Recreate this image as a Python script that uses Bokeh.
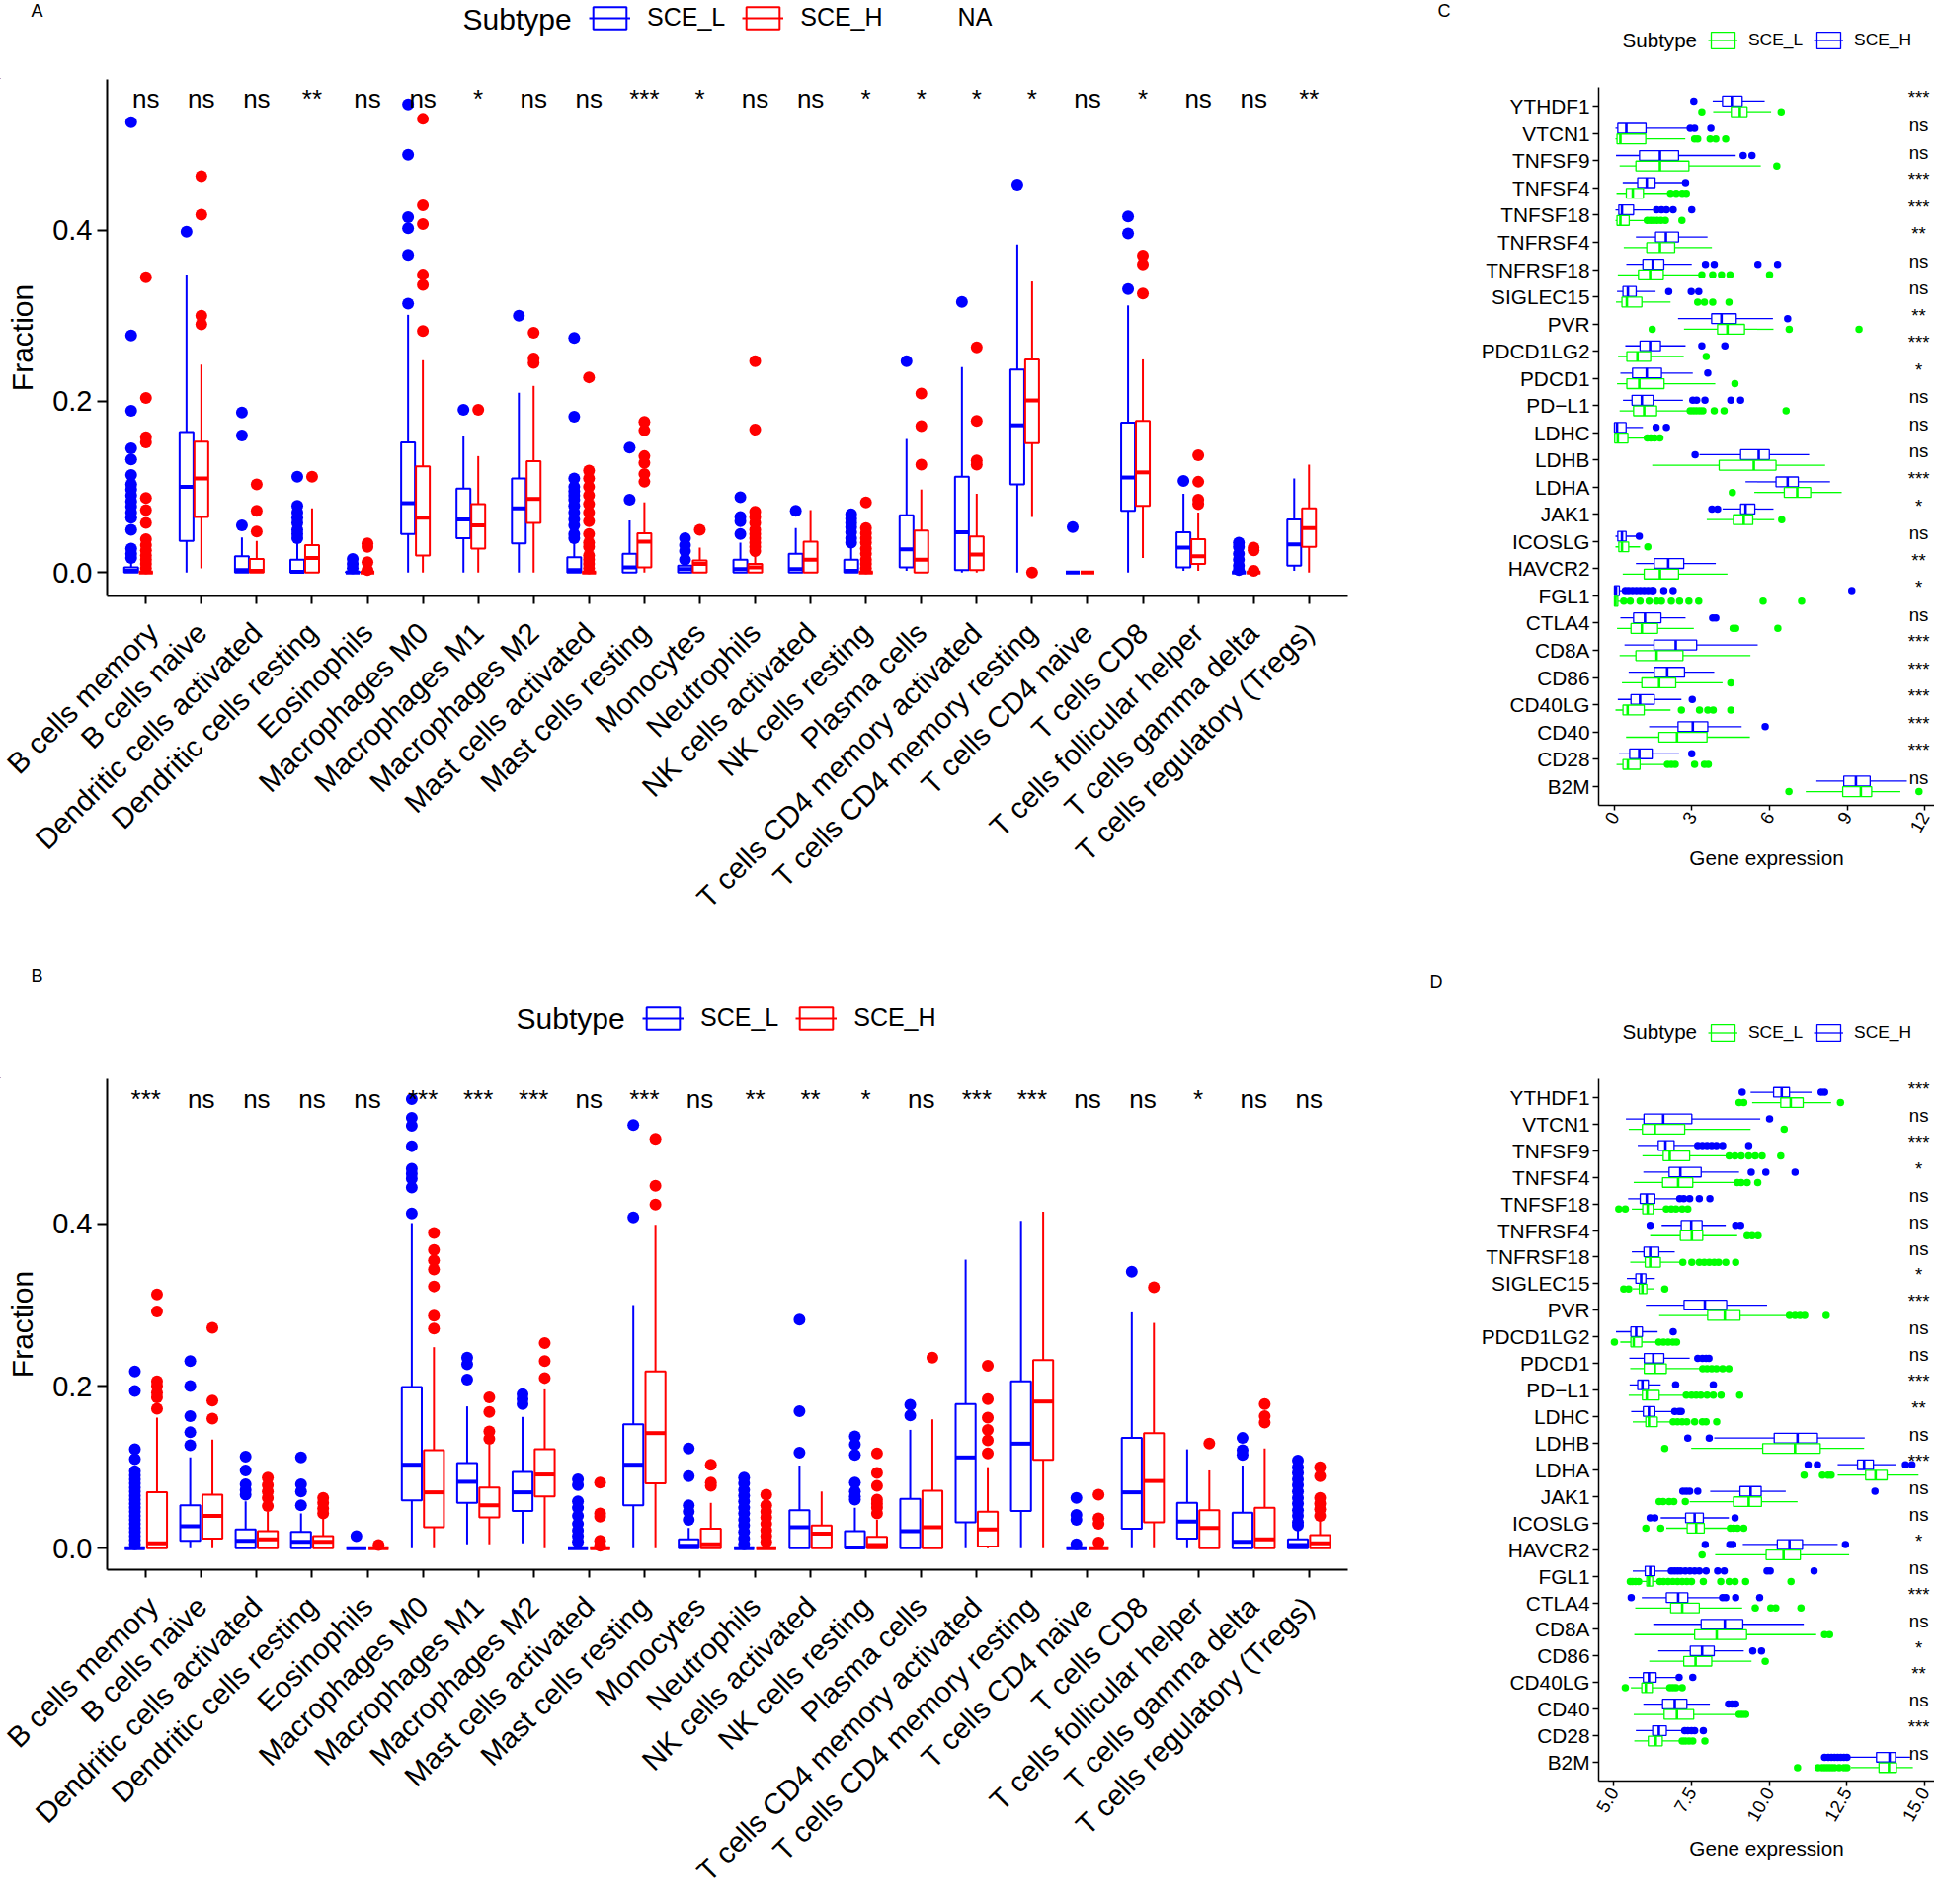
import math
from bokeh.plotting import figure
from bokeh.models import (FactorRange, Range1d, FixedTicker, PrintfTickFormatter,
                          ColumnDataSource, Legend, LegendItem, Label)
from bokeh.transform import dodge
from bokeh.layouts import column, row
from bokeh.embed import file_html
from bokeh.resources import INLINE
from bokeh.core.properties import value

FONT = "Liberation Sans"
BLUE = "#0000FF"
RED = "#FF0000"
GREEN = "#00FF00"

# ---------------- Panels A / B : immune cell fractions ----------------
cells = ["B cells memory", "B cells naive", "Dendritic cells activated", "Dendritic cells resting",
         "Eosinophils", "Macrophages M0", "Macrophages M1", "Macrophages M2", "Mast cells activated",
         "Mast cells resting", "Monocytes", "Neutrophils", "NK cells activated", "NK cells resting",
         "Plasma cells", "T cells CD4 memory activated", "T cells CD4 memory resting", "T cells CD4 naive",
         "T cells CD8", "T cells follicular helper", "T cells gamma delta", "T cells regulatory (Tregs)"]
A_sig = ["ns", "ns", "ns", "**", "ns", "ns", "*", "ns", "ns", "***", "*", "ns", "ns", "*", "*", "*", "*",
         "ns", "*", "ns", "ns", "**"]
B_sig = ["***", "ns", "ns", "ns", "ns", "***", "***", "***", "ns", "***", "ns", "**", "**", "*", "ns", "***",
         "***", "ns", "ns", "*", "ns", "ns"]
y_ticks_frac = [0.0, 0.2, 0.4]

# (lower whisker, Q1, median, Q3, upper whisker)
A_L_box = [(0, 0, 0.002, 0.006, 0.014), (0, 0.037, 0.1, 0.164, 0.348), (0, 0, 0.003, 0.019, 0.041),
           (0, 0, 0.001, 0.015, 0.037), (0, 0, 0, 0.001, 0.002), (0, 0.045, 0.081, 0.152, 0.301),
           (0, 0.04, 0.062, 0.098, 0.159), (0, 0.034, 0.075, 0.11, 0.21), (0, 0, 0.003, 0.018, 0.036),
           (0, 0, 0.006, 0.022, 0.061), (0, 0, 0.004, 0.008, 0.012), (0, 0, 0.004, 0.015, 0.035),
           (0, 0, 0.004, 0.022, 0.052), (0, 0, 0.002, 0.015, 0.03), (0.002, 0.006, 0.027, 0.067, 0.156),
           (0, 0.003, 0.047, 0.112, 0.24), (0, 0.103, 0.172, 0.237, 0.383), (0, 0, 0, 0, 0),
           (0, 0.072, 0.111, 0.175, 0.312), (0.002, 0.006, 0.029, 0.047, 0.092), (0, 0, 0, 0, 0),
           (0.002, 0.008, 0.033, 0.062, 0.11)]
A_L_out = [[0.526, 0.277, 0.189, 0.145, 0.132, 0.114, 0.103, 0.097, 0.09, 0.083, 0.077, 0.07, 0.064, 0.05, 0.028, 0.022, 0.017],
           [0.398], [0.187, 0.16, 0.055], [0.112, 0.078, 0.07, 0.064, 0.058, 0.05, 0.045, 0.04],
           [0.016, 0.01, 0.005], [0.314, 0.371, 0.402, 0.415, 0.488, 0.547], [0.19], [0.3],
           [0.274, 0.182, 0.11, 0.1, 0.095, 0.09, 0.085, 0.078, 0.07, 0.062, 0.055, 0.045, 0.04],
           [0.146, 0.085], [0.04, 0.032, 0.025, 0.015], [0.088, 0.065, 0.06, 0.045], [0.072],
           [0.068, 0.063, 0.058, 0.053, 0.047, 0.04, 0.035], [0.247], [0.316], [0.453], [0.053],
           [0.331, 0.396, 0.416], [0.107], [0.035, 0.03, 0.022, 0.015, 0.008, 0.003], []]
A_H_box = [(0, 0, 0, 0, 0), (0.005, 0.065, 0.11, 0.153, 0.243), (0, 0, 0.002, 0.016, 0.037),
           (0, 0, 0.017, 0.032, 0.075), (0, 0, 0, 0, 0), (0, 0.02, 0.064, 0.124, 0.248),
           (0, 0.028, 0.055, 0.08, 0.136), (0, 0.058, 0.086, 0.13, 0.218), (0, 0, 0, 0, 0),
           (0, 0.006, 0.036, 0.046, 0.082), (0, 0, 0.01, 0.014, 0.029), (0, 0, 0.006, 0.01, 0.02),
           (0, 0, 0.015, 0.036, 0.073), (0, 0, 0, 0, 0), (0, 0, 0.015, 0.049, 0.097),
           (0, 0.003, 0.021, 0.042, 0.092), (0.065, 0.151, 0.201, 0.249, 0.34), (0, 0, 0, 0, 0),
           (0.017, 0.078, 0.117, 0.177, 0.249), (0.002, 0.01, 0.019, 0.039, 0.07), (0, 0, 0, 0, 0),
           (0, 0.03, 0.052, 0.075, 0.126)]
A_H_out = [[0.345, 0.204, 0.158, 0.152, 0.087, 0.073, 0.058, 0.039, 0.032, 0.026, 0.02, 0.015, 0.01, 0.005],
           [0.463, 0.418, 0.3, 0.29], [0.103, 0.072, 0.048], [0.112], [0.034, 0.03, 0.012, 0.003],
           [0.282, 0.336, 0.348, 0.407, 0.429, 0.53], [0.19], [0.28, 0.25, 0.245],
           [0.228, 0.119, 0.11, 0.1, 0.09, 0.08, 0.07, 0.06, 0.045, 0.035, 0.03, 0.02, 0.015, 0.01, 0.005],
           [0.176, 0.166, 0.136, 0.128, 0.115, 0.106], [0.05],
           [0.247, 0.167, 0.071, 0.065, 0.058, 0.05, 0.045, 0.04, 0.035, 0.03, 0.025], [],
           [0.082, 0.052, 0.046, 0.04, 0.035, 0.028, 0.022, 0.015, 0.01, 0.005], [0.209, 0.171, 0.126],
           [0.263, 0.177, 0.131, 0.126], [0.0], [], [0.326, 0.36, 0.37], [0.137, 0.106, 0.085, 0.08],
           [0.029, 0.026, 0.002], []]

B_L_box = [(0, 0, 0, 0, 0), (0, 0.009, 0.027, 0.053, 0.112), (0, 0, 0.009, 0.023, 0.058),
           (0, 0, 0.008, 0.02, 0.043), (0, 0, 0, 0, 0), (0, 0.059, 0.103, 0.199, 0.401),
           (0.005, 0.056, 0.082, 0.105, 0.175), (0.006, 0.046, 0.069, 0.094, 0.162), (0, 0, 0, 0, 0),
           (0, 0.053, 0.103, 0.153, 0.3), (0, 0, 0.003, 0.011, 0.025), (0, 0, 0, 0, 0),
           (0, 0, 0.026, 0.047, 0.102), (0, 0, 0.001, 0.021, 0.05), (0, 0, 0.021, 0.061, 0.146),
           (0, 0.032, 0.112, 0.178, 0.356), (0, 0.046, 0.129, 0.206, 0.404), (0, 0, 0, 0, 0),
           (0, 0.024, 0.069, 0.136, 0.291), (0, 0.012, 0.033, 0.056, 0.122), (0, 0, 0.008, 0.044, 0.102),
           (0, 0, 0.004, 0.011, 0.025)]
B_L_out = [[0.218, 0.194, 0.122, 0.11, 0.095, 0.09, 0.085, 0.08, 0.075, 0.07, 0.065, 0.06, 0.055, 0.05, 0.045, 0.04, 0.035, 0.03, 0.025, 0.02, 0.015, 0.01, 0.005],
           [0.231, 0.2, 0.163, 0.143, 0.127], [0.113, 0.096, 0.079, 0.072, 0.066], [0.112, 0.079, 0.07, 0.053],
           [0.015], [0.413, 0.445, 0.456, 0.462, 0.468, 0.496, 0.521, 0.531, 0.554], [0.208, 0.227, 0.235],
           [0.178, 0.184, 0.19], [0.085, 0.078, 0.058, 0.05, 0.04, 0.03, 0.022, 0.015, 0.008], [0.408, 0.522],
           [0.123, 0.089, 0.053, 0.045, 0.035],
           [0.087, 0.08, 0.072, 0.065, 0.058, 0.05, 0.043, 0.035, 0.028, 0.02, 0.012, 0.005],
           [0.282, 0.169, 0.118], [0.138, 0.128, 0.115, 0.081, 0.07, 0.064, 0.06], [0.177, 0.164], [], [],
           [0.062, 0.041, 0.035, 0.005], [0.341], [], [0.136, 0.121, 0.115],
           [0.108, 0.1, 0.093, 0.085, 0.078, 0.07, 0.062, 0.055, 0.047, 0.04, 0.032, 0.028]]
B_H_box = [(0, 0, 0.006, 0.069, 0.161), (0, 0.012, 0.04, 0.066, 0.134), (0, 0, 0.011, 0.021, 0.045),
           (0, 0, 0.008, 0.015, 0.037), (0, 0, 0, 0, 0), (0, 0.026, 0.069, 0.121, 0.248),
           (0.005, 0.038, 0.053, 0.075, 0.128), (0, 0.064, 0.091, 0.122, 0.196), (0, 0, 0, 0, 0),
           (0, 0.08, 0.142, 0.218, 0.399), (0, 0, 0.005, 0.024, 0.056), (0, 0, 0, 0, 0),
           (0, 0, 0.018, 0.028, 0.07), (0, 0, 0.004, 0.014, 0.035), (0, 0, 0.026, 0.071, 0.159),
           (0, 0.002, 0.023, 0.045, 0.1), (0, 0.109, 0.181, 0.232, 0.415), (0, 0, 0, 0, 0),
           (0, 0.032, 0.083, 0.142, 0.278), (0, 0, 0.025, 0.047, 0.096), (0, 0, 0.011, 0.05, 0.123),
           (0, 0, 0.006, 0.016, 0.035)]
B_H_out = [[0.313, 0.292, 0.206, 0.2, 0.192, 0.186, 0.172], [0.272, 0.182, 0.16],
           [0.087, 0.078, 0.07, 0.062, 0.052], [0.062, 0.056, 0.049, 0.043], [0.004],
           [0.271, 0.287, 0.323, 0.344, 0.355, 0.368, 0.389], [0.186, 0.168, 0.144, 0.135],
           [0.21, 0.231, 0.253], [0.081, 0.043, 0.039, 0.009, 0.003], [0.424, 0.447, 0.505],
           [0.103, 0.081, 0.077], [0.066, 0.053, 0.045, 0.038, 0.03, 0.022, 0.015, 0.008], [],
           [0.117, 0.093, 0.077, 0.06, 0.055, 0.05, 0.043], [0.235],
           [0.225, 0.184, 0.161, 0.146, 0.133, 0.117], [], [0.066, 0.037, 0.03, 0.007], [0.322], [0.129],
           [0.178, 0.163, 0.155], [0.1, 0.089, 0.062, 0.055, 0.048, 0.04]]

# ---------------- Panels C / D : gene expression ----------------
genes = ["YTHDF1", "VTCN1", "TNFSF9", "TNFSF4", "TNFSF18", "TNFRSF4", "TNFRSF18", "SIGLEC15", "PVR",
         "PDCD1LG2", "PDCD1", "PD\u2212L1", "LDHC", "LDHB", "LDHA", "JAK1", "ICOSLG", "HAVCR2", "FGL1",
         "CTLA4", "CD8A", "CD86", "CD40LG", "CD40", "CD28", "B2M"]
C_sig = ["***", "ns", "ns", "***", "***", "**", "ns", "ns", "**", "***", "*", "ns", "ns", "ns", "***", "*",
         "ns", "**", "*", "ns", "***", "***", "***", "***", "***", "ns"]
D_sig = ["***", "ns", "***", "*", "ns", "ns", "ns", "*", "***", "ns", "ns", "***", "**", "ns", "***", "ns",
         "ns", "*", "ns", "***", "ns", "*", "**", "ns", "***", "ns"]
C_ticks = [0, 3, 6, 9, 12]
D_ticks = [5.0, 7.5, 10.0, 12.5, 15.0]

C_H_box = [(3.8, 4.18, 4.54, 4.94, 5.81), (0.04, 0.13, 0.46, 1.22, 2.84), (0.06, 0.97, 1.76, 2.48, 4.69),
           (0.32, 0.9, 1.25, 1.57, 2.65), (0.04, 0.17, 0.29, 0.74, 1.5), (0.83, 1.59, 1.99, 2.48, 3.6),
           (0.46, 1.1, 1.48, 1.91, 2.99), (0.1, 0.33, 0.52, 0.84, 1.59), (2.46, 3.76, 4.14, 4.71, 6.13),
           (0.42, 0.99, 1.38, 1.78, 2.75), (0.23, 0.7, 1.25, 1.82, 3.03), (0.33, 0.68, 1.06, 1.5, 2.65),
           (0.0, 0.0, 0.1, 0.45, 1.1), (3.29, 4.88, 5.58, 5.99, 7.53), (5.07, 6.25, 6.7, 7.11, 8.34),
           (4.18, 4.88, 5.07, 5.43, 6.15), (0.04, 0.13, 0.29, 0.45, 0.87), (0.83, 1.54, 2.08, 2.68, 3.92),
           (0.0, 0.0, 0.06, 0.19, 0.38), (0.23, 0.74, 1.18, 1.8, 2.75), (0.39, 1.53, 2.37, 3.18, 5.54),
           (0.55, 1.54, 2.04, 2.71, 3.86), (0.13, 0.64, 0.99, 1.54, 2.59), (1.34, 2.46, 3.03, 3.61, 4.92),
           (0.17, 0.59, 0.96, 1.46, 2.5), (7.81, 8.87, 9.34, 9.89, 11.31)]
C_H_out = [[3.07], [2.93, 3.1, 3.73], [4.98, 5.32], [2.75], [1.63, 1.82, 2.01, 2.27, 2.99], [],
           [3.52, 3.86, 5.55, 6.31], [2.1, 2.97, 3.26], [6.7], [3.38, 4.27], [3.61],
           [3.03, 3.18, 3.5, 4.5, 4.88], [1.61, 2.01], [3.12], [], [3.77, 3.99], [0.96], [],
           [0.42, 0.55, 0.7, 0.85, 1.0, 1.15, 1.3, 1.45, 1.5, 1.91, 2.27, 9.18], [3.8, 3.92], [], [],
           [3.01], [5.83], [2.99], []]
C_L_box = [(3.82, 4.52, 4.85, 5.13, 6.06), (0.04, 0.1, 0.23, 1.21, 2.74), (0.2, 0.83, 1.76, 2.88, 5.66),
           (0.08, 0.46, 0.71, 1.12, 2.08), (0.04, 0.1, 0.23, 0.57, 1.18), (0.36, 1.25, 1.76, 2.33, 3.77),
           (0.13, 0.93, 1.38, 1.89, 3.29), (0.06, 0.29, 0.48, 1.06, 2.17), (2.69, 3.99, 4.37, 5.03, 6.15),
           (0.14, 0.48, 0.89, 1.4, 2.68), (0.1, 0.48, 0.96, 1.92, 3.9), (0.2, 0.74, 1.15, 1.63, 2.84),
           (0.01, 0.01, 0.13, 0.52, 1.21), (1.46, 4.05, 5.39, 6.25, 8.15), (5.41, 6.57, 7.07, 7.59, 8.79),
           (3.57, 4.6, 5.0, 5.35, 6.18), (0.04, 0.17, 0.29, 0.55, 0.99), (0.32, 1.15, 1.76, 2.48, 4.37),
           (0.0, 0.0, 0.04, 0.13, 0.3), (0.1, 0.64, 1.06, 1.67, 3.07), (0.2, 0.83, 1.63, 2.65, 5.26),
           (0.29, 1.06, 1.73, 2.37, 4.18), (0.04, 0.33, 0.51, 1.15, 2.17), (0.45, 1.72, 2.42, 3.58, 5.24),
           (0.08, 0.33, 0.52, 0.99, 2.01), (7.4, 8.83, 9.53, 9.95, 11.06)]
C_L_out = [[3.38, 6.45], [3.1, 3.22, 3.7, 3.92, 4.3], [6.28], [2.17, 2.39, 2.62, 2.78],
           [1.27, 1.4, 1.52, 1.65, 1.8, 1.97, 2.61], [], [3.38, 3.8, 4.14, 4.47, 6.0], [3.22, 3.48, 3.8, 4.43],
           [1.46, 6.76, 9.46], [3.55], [4.66], [2.93, 3.05, 3.17, 3.3, 3.42, 3.86, 4.24, 6.64],
           [1.27, 1.4, 1.55, 1.76], [], [4.56], [6.47], [1.29], [],
           [0.36, 0.61, 0.99, 1.34, 1.63, 1.82, 2.2, 2.52, 2.88, 3.26, 5.75, 7.24], [4.59, 4.69, 6.32], [],
           [4.5], [2.59, 3.29, 3.61, 3.82, 4.5], [], [2.05, 2.2, 2.35, 3.1, 3.48, 3.63], [6.75, 11.78]]

D_H_box = [(9.4, 10.14, 10.4, 10.65, 11.36), (5.39, 5.97, 6.59, 7.51, 9.71), (5.77, 6.43, 6.66, 6.94, 7.65),
           (5.95, 6.78, 7.14, 7.81, 9.03), (5.46, 5.85, 6.06, 6.32, 7.07), (6.54, 7.17, 7.49, 7.84, 8.6),
           (5.58, 5.97, 6.17, 6.45, 6.96), (5.42, 5.71, 5.88, 6.03, 6.32), (6.03, 7.26, 7.93, 8.63, 9.93),
           (5.07, 5.55, 5.72, 5.92, 6.41), (5.5, 5.98, 6.27, 6.61, 7.44), (5.51, 5.77, 5.92, 6.11, 6.51),
           (5.56, 5.95, 6.13, 6.32, 6.91), (8.23, 10.16, 10.91, 11.55, 13.07), (12.2, 12.84, 13.05, 13.35, 14.09),
           (8.1, 9.06, 9.4, 9.74, 10.53), (6.51, 7.31, 7.6, 7.88, 8.7), (9.15, 10.26, 10.65, 11.07, 12.2),
           (5.61, 6.01, 6.17, 6.32, 6.78), (5.9, 6.69, 7.07, 7.38, 8.44), (6.27, 7.81, 8.57, 9.15, 11.11),
           (6.43, 7.46, 7.84, 8.23, 9.18), (5.48, 5.95, 6.13, 6.36, 7.02), (5.95, 6.57, 6.96, 7.35, 8.09),
           (5.71, 6.25, 6.45, 6.69, 7.25), (12.6, 13.45, 13.87, 14.06, 14.53)]
D_H_out = [[9.13, 11.67, 11.78], [10.01], [7.7, 7.85, 8.0, 8.15, 8.3, 8.5, 9.34], [9.42, 9.89, 10.83],
           [7.12, 7.25, 7.44, 7.75, 8.09], [6.17, 8.92, 9.08], [], [], [], [6.91], [7.7, 7.85, 7.97, 8.06],
           [6.99, 8.2], [6.96, 7.1, 7.17], [7.38, 8.07], [11.25, 11.55, 14.38, 14.59],
           [7.22, 7.33, 7.44, 7.7, 13.4], [6.17, 6.32, 8.9], [7.94, 8.73, 8.83, 12.45],
           [6.85, 6.95, 7.05, 7.15, 7.3, 7.45, 7.6, 7.75, 7.97, 8.34, 8.55, 9.93, 10.03, 11.44],
           [5.56, 8.5, 8.6, 8.92, 9.69], [], [9.47, 9.75], [7.1, 7.54], [8.69, 8.8, 8.92],
           [7.28, 7.38, 7.5, 7.6, 7.88], [11.78, 11.9, 12.0, 12.1, 12.2, 12.3, 12.4, 12.5]]
D_L_box = [(9.45, 10.37, 10.69, 11.09, 11.99), (5.48, 5.92, 6.32, 7.28, 9.4), (5.92, 6.59, 6.8, 7.44, 8.65),
           (5.64, 6.57, 7.07, 7.54, 8.92), (5.58, 5.93, 6.09, 6.27, 6.64), (6.17, 7.14, 7.51, 7.86, 8.97),
           (5.53, 6.01, 6.17, 6.5, 7.12), (5.6, 5.82, 5.92, 6.06, 6.3), (6.46, 8.02, 8.57, 9.06, 10.61),
           (5.21, 5.55, 5.64, 5.9, 6.38), (5.53, 5.98, 6.32, 6.69, 7.81), (5.48, 5.92, 6.06, 6.46, 7.28),
           (5.61, 6.03, 6.13, 6.4, 6.85), (7.49, 9.79, 10.83, 11.64, 13.05), (12.2, 13.1, 13.42, 13.79, 14.8),
           (7.44, 8.85, 9.34, 9.75, 10.91), (6.69, 7.36, 7.65, 7.91, 8.71), (8.26, 9.9, 10.46, 11.0, 12.57),
           (5.9, 6.06, 6.13, 6.25, 6.38), (5.69, 6.83, 7.2, 7.75, 9.13), (5.66, 7.6, 8.31, 9.27, 11.51),
           (6.14, 7.25, 7.63, 8.15, 9.43), (5.55, 5.9, 6.03, 6.24, 6.69), (5.64, 6.62, 7.03, 7.57, 8.97),
           (5.66, 6.11, 6.35, 6.56, 7.17), (12.63, 13.53, 13.85, 14.09, 14.62)]
D_L_out = [[9.03, 9.18, 12.29], [10.48], [8.71, 8.9, 9.1, 9.34, 9.55, 9.77, 10.37], [8.97, 9.1, 9.29, 9.63],
           [5.16, 5.37, 6.69, 6.85, 7.0, 7.2, 7.38], [9.29, 9.45, 9.64],
           [7.22, 7.51, 7.75, 7.91, 8.07, 8.23, 8.37, 8.6, 8.92], [5.32, 5.48, 6.64],
           [10.65, 10.83, 10.99, 11.14, 11.83], [5.02, 6.45, 6.6, 6.75, 6.9, 7.02], [7.86, 8.0, 8.15, 8.3, 8.5, 8.7],
           [7.33, 7.5, 7.65, 7.8, 8.0, 8.2, 8.45, 9.05], [6.91, 7.05, 7.2, 7.35, 7.6, 7.85, 7.97, 8.31], [6.64],
           [11.12, 11.71, 11.89, 11.99], [6.46, 6.59, 6.78, 6.93, 7.3], [6.03, 6.51, 8.75, 8.85, 8.98, 9.18],
           [7.84],
           [5.53, 5.6, 5.7, 5.8, 6.48, 6.6, 6.75, 6.9, 7.05, 7.2, 7.35, 7.5, 7.88, 8.44, 8.71, 8.9, 9.24, 10.7],
           [9.55, 10.05, 10.21, 11.02], [11.78, 11.94], [9.87], [5.37, 6.8, 6.9, 7.0, 7.2], [9.03, 9.13, 9.24],
           [7.2, 7.3, 7.42, 7.54, 7.93], [10.91, 11.57, 11.7, 11.8, 11.9, 12.0, 12.1, 12.25, 12.4, 12.5]]


# ---------------- helpers ----------------
def base_fig(W, H, L, R, T, B, x_range, y_range):
    p = figure(width=W, height=H, x_range=x_range, y_range=y_range, output_backend="svg",
               toolbar_location=None, min_border_left=L, min_border_right=R, min_border_top=T,
               min_border_bottom=B)
    p.outline_line_color = None
    p.background_fill_color = "white"
    p.border_fill_color = "white"
    p.xgrid.grid_line_color = None
    p.ygrid.grid_line_color = None
    for ax in (p.xaxis[0], p.yaxis[0]):
        ax.axis_line_color = "black"
        ax.major_tick_line_color = "black"
        ax.minor_tick_line_color = None
        ax.major_tick_in = 0
        ax.minor_tick_out = 0
        ax.minor_tick_in = 0
        ax.major_label_text_font = FONT
        ax.major_label_text_color = "black"
        ax.axis_label_text_font = FONT
        ax.axis_label_text_font_style = "normal"
        ax.axis_label_text_color = "black"
    return p


def header_fig(W, H):
    p = figure(width=W, height=H, x_range=Range1d(0, 1), y_range=Range1d(0, 1), output_backend="svg",
               toolbar_location=None, x_axis_location=None, y_axis_location=None,
               min_border_left=0, min_border_right=0, min_border_top=0, min_border_bottom=0)
    p.outline_line_color = None
    p.background_fill_color = "white"
    p.border_fill_color = "white"
    p.grid.visible = False
    return p


def unpack(box):
    return [list(t) for t in zip(*box)]


def draw_vboxes(p, cats, box, outs, off, bw, color, lw, mlw, ps):
    lo, q1, med, q3, hi = unpack(box)
    src = ColumnDataSource(dict(cat=cats, lo=lo, q1=q1, med=med, q3=q3, hi=hi))
    oc = [c for c, o in zip(cats, outs) for _ in o]
    ov = [v for o in outs for v in o]
    osrc = ColumnDataSource(dict(cat=oc, v=ov))
    p.scatter(x=dodge("cat", off, range=p.x_range), y="v", source=osrc, size=ps,
              fill_color=color, line_color=None)
    p.segment(x0=dodge("cat", off, range=p.x_range), y0="lo", x1=dodge("cat", off, range=p.x_range),
              y1="q1", source=src, line_color=color, line_width=lw)
    p.segment(x0=dodge("cat", off, range=p.x_range), y0="q3", x1=dodge("cat", off, range=p.x_range),
              y1="hi", source=src, line_color=color, line_width=lw)
    p.vbar(x=dodge("cat", off, range=p.x_range), width=bw, bottom="q1", top="q3", source=src,
           fill_color="white", line_color=color, line_width=lw)
    p.segment(x0=dodge("cat", off - bw / 2, range=p.x_range), y0="med",
              x1=dodge("cat", off + bw / 2, range=p.x_range), y1="med", source=src,
              line_color=color, line_width=mlw)


def draw_hboxes(p, cats, box, outs, off, bh, color, lw, mlw, ps):
    lo, q1, med, q3, hi = unpack(box)
    src = ColumnDataSource(dict(cat=cats, lo=lo, q1=q1, med=med, q3=q3, hi=hi))
    oc = [c for c, o in zip(cats, outs) for _ in o]
    ov = [v for o in outs for v in o]
    osrc = ColumnDataSource(dict(cat=oc, v=ov))
    p.scatter(y=dodge("cat", off, range=p.y_range), x="v", source=osrc, size=ps,
              fill_color=color, line_color=None)
    p.segment(y0=dodge("cat", off, range=p.y_range), x0="lo", y1=dodge("cat", off, range=p.y_range),
              x1="q1", source=src, line_color=color, line_width=lw)
    p.segment(y0=dodge("cat", off, range=p.y_range), x0="q3", y1=dodge("cat", off, range=p.y_range),
              x1="hi", source=src, line_color=color, line_width=lw)
    p.hbar(y=dodge("cat", off, range=p.y_range), height=bh, left="q1", right="q3", source=src,
           fill_color="white", line_color=color, line_width=lw)
    p.segment(y0=dodge("cat", off - bh / 2, range=p.y_range), x0="med",
              y1=dodge("cat", off + bh / 2, range=p.y_range), x1="med", source=src,
              line_color=color, line_width=mlw)


def key_items(p, labels, colors, lw, with_na):
    # legend-only renderers: one point each, parked outside the header's visible range
    items = []
    for lab, col in zip(labels, colors):
        b = p.vbar(x=[-5], top=[-5], bottom=[-6], width=0.1, fill_color="white", line_color=col, line_width=lw)
        m = p.segment(x0=[-5], y0=[-5], x1=[-6], y1=[-5], line_color=col, line_width=lw)
        items.append(LegendItem(label=lab, renderers=[b, m]))
    if with_na:
        na = p.scatter(x=[-5], y=[-5], fill_alpha=0, line_alpha=0)
        items.append(LegendItem(label="NA", renderers=[na]))
    return items


def add_legend(p, items, loc, lfs, gw, gh, lstand, spacing):
    lg = Legend(items=items, location=loc, orientation="horizontal",
                label_text_font=FONT, label_text_font_size=lfs, label_text_color="black",
                glyph_width=gw, glyph_height=gh, label_standoff=lstand, spacing=spacing,
                padding=0, margin=0, border_line_color=None, background_fill_alpha=0,
                label_height=gh, label_width=10)
    p.add_layout(lg, "center")


def text_label(p, text, x, y, size, baseline="top"):
    p.add_layout(Label(x=x, y=y, x_units="screen", y_units="screen", text=text, text_font=FONT,
                       text_font_size=size, text_baseline=baseline, text_align="left",
                       text_color="black"))


def cell_panel(W, H, T, B, yr, L_box, L_out, H_box, H_out, sig, sig_y, offs, bw):
    xr = FactorRange(factors=cells, range_padding=0.2, range_padding_units="absolute")
    p = base_fig(W, H, 108, 76, T, B, xr, Range1d(*yr))
    draw_vboxes(p, cells, L_box, L_out, offs[0], bw, BLUE, 2, 4, 12)
    draw_vboxes(p, cells, H_box, H_out, offs[1], bw, RED, 2, 4, 12)
    p.text(x="cat", y="y", text="s",
           source=ColumnDataSource(dict(cat=cells, y=[sig_y] * len(cells), s=sig)),
           text_align="center", text_baseline="alphabetic", text_font=value(FONT),
           text_font_size=value("26px"), text_color="black")
    xa, ya = p.xaxis[0], p.yaxis[0]
    xa.major_label_orientation = math.pi / 4
    xa.major_label_text_font_size = "29.5px"
    xa.major_tick_out = 8
    xa.major_label_standoff = 24
    xa.axis_line_width = 2
    xa.major_tick_line_width = 2
    ya.ticker = FixedTicker(ticks=y_ticks_frac, minor_ticks=[])
    ya.formatter = PrintfTickFormatter(format="%.1f")
    ya.major_label_text_font_size = "29px"
    ya.major_tick_out = 10
    ya.major_label_standoff = 5
    ya.axis_line_width = 2
    ya.major_tick_line_width = 2
    ya.axis_label = "Fraction"
    ya.axis_label_text_font_size = "30px"
    ya.axis_label_standoff = 11
    return p


def gene_panel(W, H, T, B, xr, ticks, fmt, H_box, H_out, L_box, L_out, sig, sig_x, sig_dy, title_standoff):
    yr = FactorRange(factors=genes[::-1], range_padding=0.2, range_padding_units="absolute")
    p = base_fig(W, H, 178, 0, T, B, Range1d(*xr), yr)
    draw_hboxes(p, genes, H_box, H_out, 0.195, 0.36, BLUE, 1.3, 2.6, 7.5)
    draw_hboxes(p, genes, L_box, L_out, -0.195, 0.36, GREEN, 1.3, 2.6, 7.5)
    p.text(x="x", y=dodge("g", sig_dy, range=p.y_range), text="s",
           source=ColumnDataSource(dict(g=genes, x=[sig_x] * len(genes), s=sig)),
           text_align="center", text_baseline="alphabetic", text_font=value(FONT),
           text_font_size=value("18.6px"), text_color="black")
    xa, ya = p.xaxis[0], p.yaxis[0]
    xa.ticker = FixedTicker(ticks=ticks, minor_ticks=[])
    if fmt:
        xa.formatter = PrintfTickFormatter(format=fmt)
    xa.major_label_orientation = math.pi / 3
    xa.major_label_text_font_size = "18.5px"
    xa.major_tick_out = 5
    xa.major_label_standoff = 3
    xa.axis_line_width = 1.5
    xa.major_tick_line_width = 1.5
    xa.axis_label = "Gene expression"
    xa.axis_label_text_font_size = "20.7px"
    xa.axis_label_standoff = title_standoff
    ya.major_label_text_font_size = "20.8px"
    ya.major_tick_out = 6
    ya.major_label_standoff = 3
    ya.axis_line_width = 1.5
    ya.major_tick_line_width = 1.5
    return p


# ---------------- figures (page is drawn from its top-left corner) ----------------
WL, WR = 1440, 518
pA = cell_panel(WL, 895, 0, 372, (-0.0274, 0.576), A_L_box, A_L_out, A_H_box, A_H_out, A_sig,
                0.553, (-0.267, 0.0), 0.25)
pB = cell_panel(WL, 834, 0, 309, (-0.0265, 0.579), B_L_box, B_L_out, B_H_box, B_H_out, B_sig,
                0.5545, (-0.2, 0.2), 0.36)
pC = gene_panel(WR, 895, 8, 160, (-0.61, 12.38), C_ticks, None, C_H_box, C_H_out, C_L_box, C_L_out,
                C_sig, 11.77, 0.32, 6)
pD = gene_panel(WR, 834, 0, 123, (4.514, 15.315), D_ticks, "%.1f", D_H_box, D_H_out, D_L_box, D_L_out,
                D_sig, 14.81, 0.33, 8)

# header strips carrying the legends and panel tags
h1 = header_fig(WL + WR, 80)
text_label(h1, "Subtype", 468, 61, "30px", "alphabetic")
add_legend(h1, key_items(h1, ["SCE_L", "SCE_H"], [BLUE, RED], 2, True), (596, 48), "25px", 42, 28, 17, 17)
text_label(h1, "Subtype", 1642, 39.7, "20.6px", "alphabetic")
add_legend(h1, key_items(h1, ["SCE_L", "SCE_H"], [GREEN, BLUE], 1.3, False), (1729, 29),
           "17.4px", 30, 21, 11, 11)
text_label(h1, "A", 31, 80, "18px")
text_label(h1, "C", 1455, 80, "18px")

h2 = header_fig(WL + WR, 117)
text_label(h2, "Subtype", 522, 61, "30px", "alphabetic")
add_legend(h2, key_items(h2, ["SCE_L", "SCE_H"], [BLUE, RED], 2, False), (650, 47), "25px", 42, 28, 17, 17)
text_label(h2, "Subtype", 1642, 48.3, "20.6px", "alphabetic")
add_legend(h2, key_items(h2, ["SCE_L", "SCE_H"], [GREEN, BLUE], 1.3, False), (1729, 36),
           "17.4px", 30, 21, 11, 11)
text_label(h2, "B", 31, 114.5, "18px")
text_label(h2, "D", 1447, 109, "18px")

layout = column(h1, row(column(pA), column(pC)), h2, row(column(pB), column(pD)))
open("out.html", "w").write(file_html(layout, INLINE))
